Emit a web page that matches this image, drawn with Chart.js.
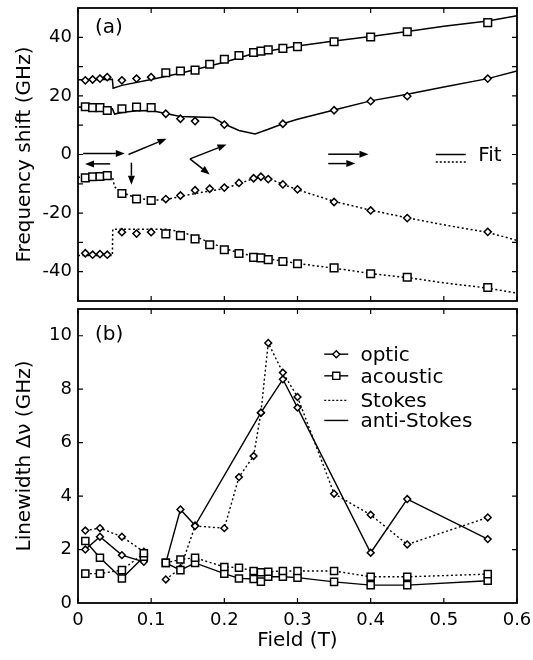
<!DOCTYPE html>
<html>
<head>
<meta charset="utf-8">
<script src="https://cdn.jsdelivr.net/npm/chart.js@4.4.1/dist/chart.umd.min.js"></script>
<style>
  html, body { margin: 0; padding: 0; background: #fff; }
  #wrap { position: relative; width: 533px; height: 660px; background: #fff; }
  #chartA { position: absolute; left: 0; top: 0; }
  #chartB { position: absolute; left: 0; top: 305px; }
</style>
</head>
<body>
<div id="wrap">
  <canvas id="chartA" width="533" height="305"></canvas>
  <canvas id="chartB" width="533" height="355"></canvas>
</div>
<script>
// ---- data: panel (a) frequency shift ----
const fieldLow = [0.01, 0.02, 0.03, 0.04, 0.06, 0.08, 0.10];
const fieldHigh = [0.12, 0.14, 0.16, 0.18, 0.20, 0.22, 0.24, 0.25, 0.26, 0.28, 0.30, 0.35, 0.40, 0.45, 0.56];
const fieldB2High = [0.12, 0.14, 0.16, 0.20, 0.28, 0.35, 0.40, 0.45, 0.56];

const b1Diamond = [25.3, 25.6, 25.9, 26.4, 25.3, 25.9, 26.4];
const b1Square = [27.9, 28.5, 28.8, 30.8, 32.5, 33.8, 34.8, 35.3, 35.7, 36.2, 36.8, 38.5, 40.1, 41.9, 45.0];
const b2Square = [16.3, 16.0, 16.0, 15.0, 15.6, 16.2, 16.0];
const b2Diamond = [13.9, 12.2, 11.4, 10.2, 10.5, 15.1, 18.2, 19.9, 25.9];
const b3Square = [-8.0, -7.6, -7.5, -7.2, -13.3, -15.2, -15.7];
const b3Diamond = [-15.2, -14.0, -12.2, -11.7, -11.3, -9.7, -8.1, -7.6, -8.4, -10.2, -11.9, -16.2, -19.1, -21.7, -26.4];
const b4Diamond = [-33.7, -34.2, -34.0, -34.2, -26.5, -27.0, -26.5];
const b4Square = [-27.1, -27.7, -28.8, -30.8, -32.5, -33.8, -35.1, -35.3, -35.9, -36.5, -37.3, -38.7, -40.7, -41.9, -45.4];

// fit curves
const fit1Field = [0, 0.047, 0.048, 0.06, 0.10, 0.14, 0.20, 0.24, 0.30, 0.35, 0.40, 0.45, 0.50, 0.56, 0.60];
const fit1Value = [25.5, 25.7, 22.6, 23.6, 25.6, 27.7, 31.5, 34.5, 37.0, 38.7, 40.3, 42.0, 43.8, 45.6, 47.4];
const fit2Field = [0, 0.047, 0.05, 0.06, 0.08, 0.10, 0.12, 0.14, 0.185, 0.20, 0.22, 0.242, 0.26, 0.281, 0.30, 0.35, 0.40, 0.45, 0.50, 0.56, 0.60];
const fit2Value = [16.2, 15.6, 13.8, 14.3, 14.9, 15.0, 14.0, 13.0, 12.6, 10.4, 8.2, 7.0, 8.6, 10.6, 12.0, 15.2, 18.3, 20.6, 23.0, 25.9, 28.5];
const fit3Field = [0, 0.047, 0.05, 0.06, 0.08, 0.10, 0.12, 0.16, 0.20, 0.22, 0.24, 0.252, 0.265, 0.28, 0.30, 0.35, 0.40, 0.45, 0.50, 0.56, 0.60];
const fit3Value = [-7.8, -7.5, -11.0, -13.0, -14.8, -15.6, -15.4, -13.3, -11.6, -10.0, -8.2, -7.6, -8.6, -10.2, -12.0, -16.0, -19.0, -21.6, -24.0, -26.6, -29.3];
const fit4Field = [0, 0.047, 0.0475, 0.12, 0.14, 0.16, 0.18, 0.20, 0.22, 0.25, 0.30, 0.35, 0.40, 0.45, 0.50, 0.56, 0.60];
const fit4Value = [-34.5, -34.5, -25.5, -25.5, -26.3, -28.0, -30.0, -32.0, -33.6, -35.2, -37.2, -38.8, -40.6, -42.0, -43.8, -45.6, -47.3];

// ---- data: panel (b) linewidth ----
const lwFieldLow = [0.01, 0.03, 0.06, 0.09];
const lwFieldHigh = [0.12, 0.14, 0.16, 0.20, 0.22, 0.24, 0.25, 0.26, 0.28, 0.30, 0.35, 0.40, 0.45, 0.56];
const lwFieldOpticAS = [0.12, 0.14, 0.16, 0.25, 0.28, 0.30, 0.40, 0.45, 0.56];
const opticStokesLow = [2.71, 2.80, 2.48, 1.92];
const opticStokesHigh = [0.88, 1.30, 2.88, 2.80, 4.71, 5.50, 7.12, 9.73, 8.62, 7.71, 4.09, 3.30, 2.19, 3.20];
const opticAntiLow = [2.00, 2.48, 1.79, 1.54];
const opticAntiHigh = [1.50, 3.50, 2.90, 7.12, 8.37, 7.31, 1.88, 3.89, 2.39];
const acousticStokesLow = [1.10, 1.10, 1.23, 1.86];
const acousticStokesHigh = [1.50, 1.63, 1.69, 1.35, 1.32, 1.20, 1.15, 1.17, 1.20, 1.20, 1.20, 0.98, 0.98, 1.08];
const acousticAntiLow = [2.32, 1.69, 0.92, 1.73];
const acousticAntiHigh = [1.50, 1.23, 1.50, 1.10, 0.92, 0.90, 0.80, 0.98, 0.98, 0.95, 0.79, 0.67, 0.67, 0.83];

// ---- ticks ----
const xTickValues = [0, 0.1, 0.2, 0.3, 0.4, 0.5, 0.6];
const freqTickValues = [-40, -30, -20, -10, 0, 10, 20, 30, 40];
const lwTickValues = [2, 4, 6, 8, 10];

Chart.defaults.font.family = "'DejaVu Sans', sans-serif";
Chart.defaults.color = '#000';

function pts(xs, ys) {
    return xs.map((x, i) => ({ x: x, y: ys[i] }));
}

// low-field branch, a break, then the high-field branch
function withGap(xsLow, ysLow, xsHigh, ysHigh) {
    return pts(xsLow, ysLow).concat([{ x: 0.105, y: null }], pts(xsHigh, ysHigh));
}

function markerSet(data, style, radius) {
    return {
        data: data,
        showLine: false,
        pointStyle: style,
        pointRadius: radius,
        pointBorderWidth: 1.5,
        pointBorderColor: '#000',
        pointBackgroundColor: '#fff',
        order: 0
    };
}

function fitSet(xs, ys, dotted) {
    return {
        data: pts(xs, ys),
        borderColor: '#000',
        borderWidth: 1.5,
        borderDash: dotted ? [2, 2.5] : [],
        pointRadius: 0,
        tension: 0,
        order: 1
    };
}

function lwSet(data, style, radius, dotted) {
    return {
        data: data,
        borderColor: '#000',
        borderWidth: 1.4,
        borderDash: dotted ? [2, 2.5] : [],
        spanGaps: false,
        tension: 0,
        pointStyle: style,
        pointRadius: radius,
        pointBorderWidth: 1.5,
        pointBorderColor: '#000',
        pointBackgroundColor: '#fff'
    };
}

// keep both panels on exactly the same plot box
function fixX(height) {
    return function (s) {
        s.height = height;
        s.paddingLeft = 0;
        s.paddingRight = 0;
    };
}

function fixY(s) {
    s.width = 78;
    s.paddingTop = 0;
    s.paddingBottom = 0;
}

// box with inward ticks on all four sides
const framePlugin = {
    id: 'frame',
    afterDatasetsDraw(chart, args, opts) {
        const { ctx, chartArea: a, scales } = chart;
        ctx.save();
        ctx.strokeStyle = '#000';
        ctx.lineWidth = 1.2;
        ctx.beginPath();
        opts.xTicks.forEach(v => {
            const px = scales.x.getPixelForValue(v);
            ctx.moveTo(px, a.bottom); ctx.lineTo(px, a.bottom - 5);
            ctx.moveTo(px, a.top); ctx.lineTo(px, a.top + 5);
        });
        opts.yTicks.forEach(v => {
            const py = scales.y.getPixelForValue(v);
            ctx.moveTo(a.left, py); ctx.lineTo(a.left + 5, py);
            ctx.moveTo(a.right, py); ctx.lineTo(a.right - 5, py);
        });
        ctx.stroke();
        ctx.lineWidth = 1.8;
        ctx.strokeRect(a.left, a.top, a.right - a.left, a.bottom - a.top);
        ctx.restore();
    }
};

function drawArrow(ctx, x1, y1, x2, y2) {
    const ang = Math.atan2(y2 - y1, x2 - x1);
    const L = 9, W = 3.5;
    const bx = x2 - L * Math.cos(ang), by = y2 - L * Math.sin(ang);
    ctx.beginPath();
    ctx.moveTo(x1, y1);
    ctx.lineTo(bx, by);
    ctx.stroke();
    ctx.beginPath();
    ctx.moveTo(x2, y2);
    ctx.lineTo(bx + W * Math.sin(ang), by - W * Math.cos(ang));
    ctx.lineTo(bx - W * Math.sin(ang), by + W * Math.cos(ang));
    ctx.closePath();
    ctx.fill();
}

// arrows of panel (a), in field / GHz units
const arrows = [
    [0.007, 0.3, 0.064, 0.3],
    [0.069, 0, 0.121, 5.4],
    [0.044, -3.2, 0.0096, -3.2],
    [0.073, -2.8, 0.073, -10.3],
    [0.153, -1.5, 0.203, 3.4],
    [0.153, -1.5, 0.180, -6.8],
    [0.342, 0.1, 0.397, 0.1],
    [0.342, -3.1, 0.379, -3.1]
];

const notesA = {
    id: 'notesA',
    afterDraw(chart) {
        const { ctx, chartArea: a, scales: { x, y } } = chart;
        ctx.save();
        ctx.strokeStyle = '#000';
        ctx.fillStyle = '#000';
        ctx.lineWidth = 1.5;
        arrows.forEach(r => drawArrow(ctx, x.getPixelForValue(r[0]), y.getPixelForValue(r[1]),
            x.getPixelForValue(r[2]), y.getPixelForValue(r[3])));

        // Fit key
        const kx1 = x.getPixelForValue(0.489), kx2 = x.getPixelForValue(0.530);
        const ky1 = y.getPixelForValue(0), ky2 = y.getPixelForValue(-2.6);
        ctx.beginPath(); ctx.moveTo(kx1, ky1); ctx.lineTo(kx2, ky1); ctx.stroke();
        ctx.setLineDash([2, 2]);
        ctx.beginPath(); ctx.moveTo(kx1, ky2); ctx.lineTo(kx2, ky2); ctx.stroke();
        ctx.setLineDash([]);
        ctx.font = "20px 'DejaVu Sans'";
        ctx.textBaseline = 'alphabetic';
        ctx.fillText('Fit', x.getPixelForValue(0.547), ky1 + 6);
        ctx.fillText('(a)', a.left + 17, a.top + 25);
        ctx.restore();
    }
};

function drawMarker(ctx, style, cx, cy) {
    ctx.beginPath();
    if (style === 'rectRot') {
        const r = 3.5;
        ctx.moveTo(cx, cy - r); ctx.lineTo(cx + r, cy); ctx.lineTo(cx, cy + r); ctx.lineTo(cx - r, cy);
        ctx.closePath();
    } else {
        ctx.rect(cx - 3.6, cy - 3.6, 7.2, 7.2);
    }
    ctx.fillStyle = '#fff';
    ctx.fill();
    ctx.stroke();
}

const legendRows = [
    { text: 'optic', y: 9.31, marker: 'rectRot', dash: [] },
    { text: 'acoustic', y: 8.50, marker: 'rect', dash: [] },
    { text: 'Stokes', y: 7.58, marker: null, dash: [2, 2] },
    { text: 'anti-Stokes', y: 6.83, marker: null, dash: [] }
];

const notesB = {
    id: 'notesB',
    afterDraw(chart) {
        const { ctx, chartArea: a, scales: { x, y } } = chart;
        const lx1 = x.getPixelForValue(0.3366), lx2 = x.getPixelForValue(0.3694);
        const tx = x.getPixelForValue(0.386);
        ctx.save();
        ctx.strokeStyle = '#000';
        ctx.lineWidth = 1.4;
        ctx.font = "20px 'DejaVu Sans'";
        ctx.textBaseline = 'alphabetic';
        legendRows.forEach(r => {
            const py = y.getPixelForValue(r.y);
            ctx.setLineDash(r.dash);
            ctx.beginPath(); ctx.moveTo(lx1, py); ctx.lineTo(lx2, py); ctx.stroke();
            ctx.setLineDash([]);
            if (r.marker) drawMarker(ctx, r.marker, (lx1 + lx2) / 2, py);
            ctx.fillStyle = '#000';
            ctx.fillText(r.text, tx, py + 7);
        });
        ctx.fillText('(b)', a.left + 17, a.top + 31);
        ctx.restore();
    }
};

// Panel (a): frequency shift
function initFreqChart() {
    const ctx = document.getElementById('chartA');
    new Chart(ctx, {
        type: 'line',
        data: {
            datasets: [
                markerSet(pts(fieldLow, b1Diamond), 'rectRot', 3.6),
                markerSet(pts(fieldHigh, b1Square), 'rect', 5.4),
                markerSet(pts(fieldLow, b2Square), 'rect', 5.4),
                markerSet(pts(fieldB2High, b2Diamond), 'rectRot', 3.6),
                markerSet(pts(fieldLow, b3Square), 'rect', 5.4),
                markerSet(pts(fieldHigh, b3Diamond), 'rectRot', 3.6),
                markerSet(pts(fieldLow, b4Diamond), 'rectRot', 3.6),
                markerSet(pts(fieldHigh, b4Square), 'rect', 5.4),
                fitSet(fit1Field, fit1Value, false),
                fitSet(fit2Field, fit2Value, false),
                fitSet(fit3Field, fit3Value, true),
                fitSet(fit4Field, fit4Value, true)
            ]
        },
        options: {
            responsive: false,
            animation: false,
            layout: { autoPadding: false, padding: { top: 8, right: 16, bottom: 0, left: 0 } },
            plugins: {
                legend: { display: false },
                tooltip: { enabled: false },
                frame: { xTicks: xTickValues, yTicks: freqTickValues }
            },
            scales: {
                x: {
                    type: 'linear',
                    min: 0,
                    max: 0.6,
                    afterFit: fixX(4),
                    grid: { display: false, drawTicks: false },
                    border: { display: false },
                    ticks: { display: false }
                },
                y: {
                    min: -50,
                    max: 50,
                    afterFit: fixY,
                    grid: { display: false, drawTicks: false },
                    border: { display: false },
                    ticks: {
                        stepSize: 10,
                        padding: 6,
                        font: { size: 18 },
                        callback: function (value) {
                            return (value % 20 === 0 && Math.abs(value) < 50) ? String(value) : '';
                        }
                    },
                    title: {
                        display: true,
                        text: 'Frequency shift (GHz)',
                        font: { size: 20, lineHeight: 1.2 },
                        padding: { top: 13, bottom: 0 }
                    }
                }
            }
        },
        plugins: [framePlugin, notesA]
    });
}

// Panel (b): linewidth
function initLinewidthChart() {
    const ctx = document.getElementById('chartB');
    new Chart(ctx, {
        type: 'line',
        data: {
            datasets: [
                lwSet(withGap(lwFieldLow, acousticStokesLow, lwFieldHigh, acousticStokesHigh), 'rect', 5.0, true),
                lwSet(withGap(lwFieldLow, acousticAntiLow, lwFieldHigh, acousticAntiHigh), 'rect', 5.0, false),
                lwSet(withGap(lwFieldLow, opticStokesLow, lwFieldHigh, opticStokesHigh), 'rectRot', 3.4, true),
                lwSet(withGap(lwFieldLow, opticAntiLow, lwFieldOpticAS, opticAntiHigh), 'rectRot', 3.4, false)
            ]
        },
        options: {
            responsive: false,
            animation: false,
            layout: { autoPadding: false, padding: { top: 4, right: 16, bottom: 0, left: 0 } },
            plugins: {
                legend: { display: false },
                tooltip: { enabled: false },
                frame: { xTicks: xTickValues, yTicks: lwTickValues }
            },
            scales: {
                x: {
                    type: 'linear',
                    min: 0,
                    max: 0.6,
                    afterFit: fixX(57),
                    grid: { display: false, drawTicks: false },
                    border: { display: false },
                    ticks: { stepSize: 0.1, padding: 7, font: { size: 18 } },
                    title: {
                        display: true,
                        text: 'Field (T)',
                        font: { size: 20, lineHeight: 1.2 },
                        padding: { top: 0, bottom: 7 }
                    }
                },
                y: {
                    min: 0,
                    max: 11,
                    afterFit: fixY,
                    grid: { display: false, drawTicks: false },
                    border: { display: false },
                    ticks: {
                        stepSize: 2,
                        padding: 6,
                        font: { size: 18 },
                        callback: function (value) {
                            return value % 2 === 0 ? String(value) : '';
                        }
                    },
                    title: {
                        display: true,
                        text: 'Linewidth Δν (GHz)',
                        font: { size: 20, lineHeight: 1.2 },
                        padding: { top: 13, bottom: 0 }
                    }
                }
            }
        },
        plugins: [framePlugin, notesB]
    });
}

initFreqChart();
initLinewidthChart();
</script>
</body>
</html>
